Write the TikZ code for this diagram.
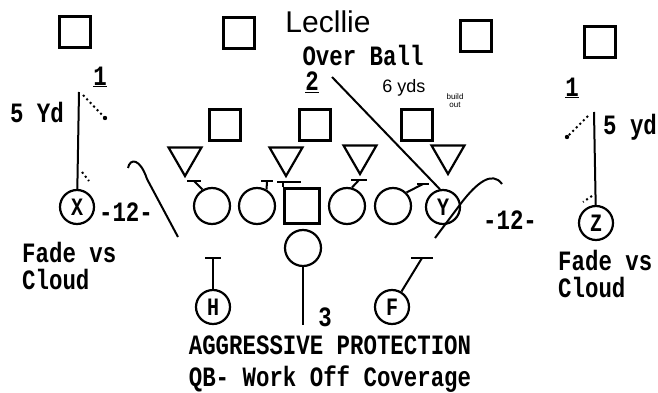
\documentclass[tikz,border=0pt]{standalone}
\usepackage{fontspec}
\usetikzlibrary{arrows.meta, positioning, calc, shapes}
\newfontfamily\typed[FakeStretch=0.8]{Liberation Mono}
\newfontfamily\hand{Liberation Sans}

\begin{document}
\begin{tikzpicture}[x=1pt, y=-1pt,
  defsq/.style={draw, line width=2.2pt, minimum size=31pt, inner sep=0pt},
  dline/.style={draw, line width=2.2pt, regular polygon, regular polygon sides=3, shape border rotate=180, minimum size=38pt, inner sep=0pt},
  oline/.style={draw, circle, line width=2.2pt, minimum size=36pt, inner sep=0pt},
  back/.style={draw, circle, line width=2.2pt, minimum size=34pt, inner sep=0pt, font=\typed\bfseries\fontsize{25}{25}\selectfont},
  lbl/.style={font=\typed\bfseries\fontsize{28}{27}\selectfont, inner sep=0pt},
  route/.style={line width=2pt},
  fade/.style={route, dash pattern=on 2pt off 3pt}]
  \useasboundingbox[fill=white] (0,0) rectangle (658,393);

  % secondary and linebackers
  \node[defsq] (db1) at (75,32) {};
  \node[defsq] (db2) at (239,33) {};
  \node[defsq] (db3) at (476,36) {};
  \node[defsq] (db4) at (600,42) {};
  \node[defsq] (lb1) at (225,125) {};
  \node[defsq] (lb2) at (315,125) {};
  \node[defsq] (lb3) at (417,125) {};

  % front four
  \node[dline] (dl1) at (185,157) {};
  \node[dline] (dl2) at (286,157) {};
  \node[dline] (dl3) at (360,155) {};
  \node[dline] (dl4) at (448,155) {};

  % offense
  \node[oline] (ol1) at (212,206) {};
  \node[oline] (ol2) at (257,206) {};
  \node[defsq, minimum size=35pt] (ctr) at (302,206) {};
  \node[oline] (ol3) at (347,206) {};
  \node[oline] (ol4) at (393,206) {};
  \node[back] (y) at (443,207) {Y};
  \node[back] (x) at (77,207) {X};
  \node[back] (z) at (596,223) {Z};
  \node[oline] (qb) at (303,248) {};
  \node[back] (h) at (213,307) {H};
  \node[back] (f) at (392,307) {F};

  % blocks
  \coordinate (b1) at (194,181);
  \coordinate (b2) at (267,181);
  \coordinate (bc) at (289,182);
  \coordinate (b3) at (359,180);
  \coordinate (b4) at (423,184);
  \coordinate (bh) at (213,258);
  \coordinate (bf) at (422,258);
  \draw[route] (ol1.120) -- (b1);
  \draw[route] (ol2.60) -- (b2);
  \draw[route] (ctr.north west) -- (ctr.north west |- bc);
  \draw[route] (ol3.75) -- (b3);
  \draw[route] (ol4.45) -- (b4);
  \draw[route] (h) -- (bh);
  \draw[route] (f) -- (bf);
  \foreach \b/\w in {b1/7, b2/6, bc/12, b3/8, b4/6, bh/8, bf/11}
    \draw[route] ([xshift=-\w pt]\b) -- ([xshift=\w pt]\b);

  % qb drop
  \coordinate (qbend) at (303,325);
  \draw[route] (qb) -- (qbend);

  % wide outs
  \coordinate (xtop) at (79,92);
  \coordinate (xd) at (105,118);
  \draw[route] (x) -- (xtop);
  \draw[fade] ($(xtop)+(4,3)$) -- (xd);
  \fill (xd) circle (2.2pt);
  \draw[fade] (82,172) -- (89,181);
  \coordinate (ztop) at (594,112);
  \coordinate (zd) at (567,137);
  \draw[route] (z) -- (ztop);
  \draw[fade] ($(ztop)+(-6,4)$) -- (zd);
  \fill (zd) circle (2.2pt);
  \draw[fade] (592,196) -- (583,202);

  % cloud curves
  \coordinate (cl0) at (128,168);
  \coordinate (cl1) at (147,179);
  \coordinate (cl2) at (178,237);
  \draw[route] (cl0) .. controls (130,158) and (140,158) .. (cl1) -- (cl2);
  \coordinate (cr0) at (435,238);
  \coordinate (cr1) at (462,202);
  \coordinate (cr2) at (502,184);
  \draw[route] (cr0) -- (cr1) .. controls (476,184) and (492,170) .. (cr2);

  % over ball
  \node[lbl] (two) at (312,82) {\underline{2}};
  \coordinate (twostart) at (332,77);
  \draw[route] (twostart) -- (y.100);

  % labels
  \node[lbl] (one1) at (100,77) {\underline{1}};
  \node[lbl] (yd1) at (37,112) {5 Yd};
  \node[lbl] (one2) at (572,88) {\underline{1}};
  \node[lbl] (yd2) at (630,127) {5 yd};
  \node[lbl] (over) at (363,55) {Over Ball};
  \node[lbl] (n3) at (325,317) {3};
  \node[lbl] (twl) at (126,212) {-12-};
  \node[lbl] (twr) at (510,220) {-12-};
  \node[lbl, align=left, anchor=west] (fadel) at (22,266) {Fade vs\\Cloud};
  \node[lbl, align=left, anchor=west] (fader) at (558,274) {Fade vs\\Cloud};
  \node[lbl, align=center, font=\typed\bfseries\fontsize{28}{32}\selectfont] (title) at (330,364) {AGGRESSIVE PROTECTION\\QB- Work Off Coverage};

  % handwritten notes
  \node[font=\hand\fontsize{30}{30}\selectfont] (lecllie) at (328,22) {Lecllie};
  \node[font=\hand\fontsize{18}{18}\selectfont] (yds) at (404,88) {6 yds};
  \node[font=\hand\fontsize{8}{8}\selectfont, align=center] (build) at (455,101) {build\\out};
\end{tikzpicture}
\end{document}
